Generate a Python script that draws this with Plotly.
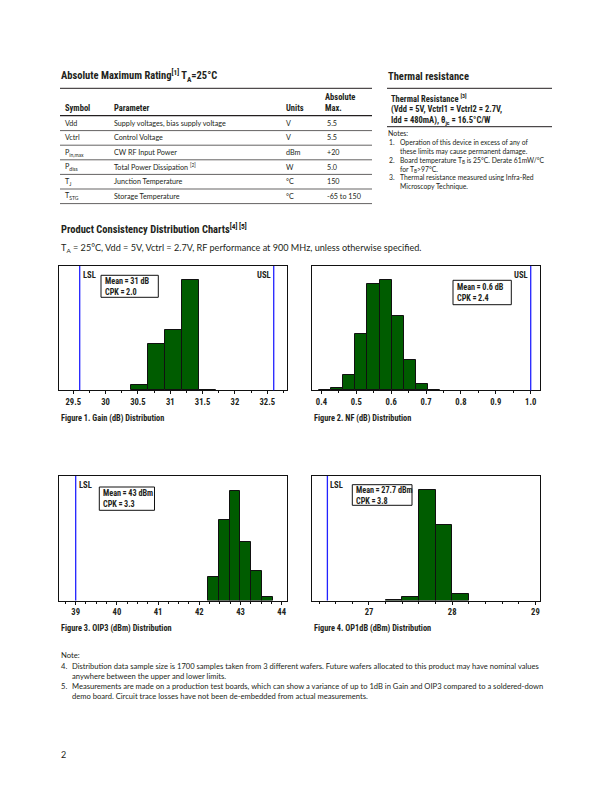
import plotly.graph_objects as go

# The page body has an 8px margin, so the figure is drawn 8px in and sized to fit.
OX, OY = 8, 8
FW, FH = 596, 776
INK = "#231f20"
BODY = "Lato, 'Open Sans', sans-serif"
COND = "'Roboto Condensed', 'Liberation Sans Narrow', 'DejaVu Sans Condensed', Lato, sans-serif"
BAR_COLOR = "#005c00"
SPEC_COLOR = "#2222ff"
TS = "\u2009"  # thin space, used around "=" in the stat boxes

# ---------------- data ----------------
gain_edges = [30.40, 30.66, 30.92, 31.18, 31.44, 31.70]
gain_counts = [43, 352, 459, 841, 5]
gain_ticks = [29.5, 30, 30.5, 31, 31.5, 32, 32.5]
gain_lsl, gain_usl = 29.6, 32.6

nf_edges = [0.394, 0.4285, 0.463, 0.4975, 0.532, 0.5665, 0.601, 0.6355, 0.670, 0.7045, 0.739]
nf_counts = [1, 9, 64, 238, 451, 468, 315, 128, 25, 1]
nf_ticks = [0.4, 0.5, 0.6, 0.7, 0.8, 0.9, 1.0]
nf_usl = 1.0

oip3_edges = [42.22, 42.48, 42.74, 43.00, 43.26, 43.52, 43.78]
oip3_counts = [132, 447, 607, 326, 166, 22]
oip3_ticks = [39, 40, 41, 42, 43, 44]
oip3_lsl = 39

op1_edges = [27.2, 27.4, 27.6, 27.8, 28.0, 28.2]
op1_counts = [4, 34, 951, 651, 60]
op1_ticks = [27, 28, 29]
op1_lsl = 26.5

amr_symbols = ["Vdd", "Vctrl", "P<sub>in,max</sub>", "P<sub>diss</sub>", "T<sub>J</sub>", "T<sub>STG</sub>"]
amr_params = ["Supply voltages, bias supply voltage", "Control Voltage", "CW RF Input Power",
              "Total Power Dissipation <sup>[2]</sup>", "Junction Temperature", "Storage Temperature"]
amr_units = ["V", "V", "dBm", "W", "°C", "°C"]
amr_max = ["5.5", "5.5", "+20", "5.0", "150", "-65 to 150"]

# ---------------- helpers ----------------
def px(x):
    return (x - OX) / FW

def py(y):
    return 1 - (y - OY) / FH

fig = go.Figure()
annotations = []
shapes = []

def text(x, y, s, size=8, family=BODY, bold=False, xanchor="left", yanchor="middle", color=INK):
    annotations.append(dict(
        x=px(x), y=py(y), xref="paper", yref="paper", text=s, showarrow=False,
        xanchor=xanchor, yanchor=yanchor, align="left", borderpad=0,
        font=dict(family=family, size=size, color=color, weight="bold" if bold else "normal"),
    ))

def hline(y, x0, x1, width=0.8, color=INK):
    shapes.append(dict(type="line", xref="paper", yref="paper",
                       x0=px(x0), x1=px(x1), y0=py(y), y1=py(y),
                       line=dict(color=color, width=width)))

# ---------------- top: absolute maximum rating ----------------
text(60, 76, "Absolute Maximum Rating<sup>[1]</sup> T<sub>A</sub>=25°C", size=10.5, family=COND, bold=True)
hline(88.3, 60, 372, 1.0)
text(324, 96.7, "Absolute", size=8.5, family=COND, bold=True)
text(64, 107.7, "Symbol", size=8.5, family=COND, bold=True)
text(113, 107.7, "Parameter", size=8.5, family=COND, bold=True)
text(285, 107.7, "Units", size=8.5, family=COND, bold=True)
text(324, 107.7, "Max.", size=8.5, family=COND, bold=True)
hline(115.7, 60, 372, 1.2)
row_y = [123.3, 137.9, 152.5, 167.1, 181.7, 196.3]
for i, yy in enumerate(row_y):
    text(64, yy, amr_symbols[i], size=7.2)
    text(113, yy, amr_params[i], size=7.2)
    text(285, yy, amr_units[i], size=7.2)
    text(325.5, yy, amr_max[i], size=7.2)
    hline(yy + 7.3, 60, 372, 0.7)

# ---------------- top right: thermal resistance ----------------
text(387, 76, "Thermal resistance", size=10.5, family=COND, bold=True)
hline(88.3, 387, 552, 1.0)
text(390, 97.7, "Thermal Resistance <sup>[3]</sup>", size=8.5, family=COND, bold=True)
text(390, 109.3, "(Vdd = 5V, Vctrl1 = Vctrl2 = 2.7V,", size=8.5, family=COND, bold=True)
text(390, 120.7, "Idd = 480mA), θ<sub>jc</sub> = 16.5°C/W", size=8.5, family=COND, bold=True)
hline(126.7, 387, 552, 1.0)
text(387, 133.4, "Notes:", size=7)
note_nums = "1.<br> <br>2.<br> <br>3.<br> "
note_lines = "<br>".join([
    "Operation of this device in excess of any of",
    "these limits may cause permanent damage.",
    "Board temperature T<sub>B</sub> is 25°C. Derate 61mW/°C",
    "for T<sub>B</sub>>97°C.",
    "Thermal resistance measured using Infra-Red",
    "Microscopy Technique.",
])
text(387.5, 137.4, note_nums, size=6.8, yanchor="top")
text(398.5, 137.4, note_lines, size=6.8, yanchor="top")

# ---------------- middle headings ----------------
text(60, 229, "Product Consistency Distribution Charts<sup>[4] [5]</sup>", size=10.5, family=COND, bold=True)
text(60, 247.5, "T<sub>A</sub> = 25°C, Vdd = 5V, Vctrl = 2.7V, RF performance at 900 MHz, unless otherwise specified.", size=9.1)

# ---------------- charts ----------------
charts = [
    dict(edges=gain_edges, counts=gain_counts, ticks=gain_ticks, xr=[29.28, 32.81], ymax=951,
         dom_x=(59, 287.3), dom_y=(266, 390.3), minor=0.25, fmt=None,
         specs=[("LSL", gain_lsl, "left"), ("USL", gain_usl, "right")],
         box=(101, 275.3, 158.3, 297.3), box_text=["Mean = 31 dB", "CPK = 2.0"],
         caption="Figure 1. Gain (dB) Distribution", cap_xy=(60, 418.5)),
    dict(edges=nf_edges, counts=nf_counts, ticks=nf_ticks, xr=[0.373, 1.0275], ymax=529,
         dom_x=(312, 540.3), dom_y=(266, 390.3), minor=0.05, fmt=".1f",
         specs=[("USL", nf_usl, "right")],
         box=(453, 280.3, 511.3, 304.7), box_text=["Mean = 0.6 dB", "CPK = 2.4"],
         caption="Figure 2. NF (dB) Distribution", cap_xy=(313, 418.5)),
    dict(edges=oip3_edges, counts=oip3_counts, ticks=oip3_ticks, xr=[38.595, 44.136], ymax=692,
         dom_x=(59, 287.3), dom_y=(476, 600.5), minor=0.25, fmt=None,
         specs=[("LSL", oip3_lsl, "left")],
         box=(99.3, 487, 154.5, 510.3), box_text=["Mean = 43 dBm", "CPK = 3.3"],
         caption="Figure 3. OIP3 (dBm) Distribution", cap_xy=(60, 628.5)),
    dict(edges=op1_edges, counts=op1_counts, ticks=op1_ticks, xr=[26.315, 29.059], ymax=1074,
         dom_x=(312, 540.3), dom_y=(476, 600.5), minor=0.2, fmt=None,
         specs=[("LSL", op1_lsl, "left")],
         box=(352.3, 484.7, 412, 505.3), box_text=["Mean = 27.7 dBm", "CPK = 3.8"],
         caption="Figure 4. OP1dB (dBm) Distribution", cap_xy=(313, 628.5)),
]

layout_axes = {}
for i, c in enumerate(charts, start=1):
    xa = "x" if i == 1 else f"x{i}"
    ya = "y" if i == 1 else f"y{i}"
    e = c["edges"]
    centers = [(e[k] + e[k + 1]) / 2 for k in range(len(e) - 1)]
    widths = [e[k + 1] - e[k] for k in range(len(e) - 1)]
    fig.add_trace(go.Bar(x=centers, y=c["counts"], width=widths, xaxis=xa, yaxis=ya,
                         marker=dict(color=BAR_COLOR, line=dict(color="#111111", width=1)),
                         showlegend=False, hoverinfo="skip"))
    key = "xaxis" if i == 1 else f"xaxis{i}"
    ykey = "yaxis" if i == 1 else f"yaxis{i}"
    layout_axes[key] = dict(
        domain=[px(c["dom_x"][0]), px(c["dom_x"][1])], range=c["xr"], anchor=ya,
        showline=True, linecolor="#111111", linewidth=1, mirror=True,
        showgrid=False, zeroline=False, ticks="outside", ticklen=3, tickwidth=1, tickcolor="#111111",
        tickvals=c["ticks"], ticktext=[(format(t, c["fmt"]) if c["fmt"] else f"{t:g}") for t in c["ticks"]],
        tickfont=dict(family=COND, size=8.6, color=INK, weight="bold"),
        minor=dict(dtick=c["minor"], tick0=c["ticks"][0], ticks="outside", ticklen=2, tickcolor="#111111"),
        fixedrange=True,
    )
    layout_axes[ykey] = dict(
        domain=[py(c["dom_y"][1]), py(c["dom_y"][0])], range=[0, c["ymax"]], anchor=xa,
        showline=True, linecolor="#111111", linewidth=1, mirror=True,
        showgrid=False, zeroline=False, showticklabels=False, ticks="", fixedrange=True,
    )
    xref = xa
    yref = f"{ya} domain"
    for label, val, side in c["specs"]:
        shapes.append(dict(type="line", xref=xref, yref=yref, x0=val, x1=val, y0=0, y1=1,
                           line=dict(color=SPEC_COLOR, width=1.3)))
        annotations.append(dict(
            x=val, y=0.985, xref=xref, yref=yref, text=label, showarrow=False,
            xanchor="left" if side == "left" else "right", yanchor="top",
            xshift=1 if side == "left" else -1,
            font=dict(family=COND, size=8.6, color=INK, weight="bold")))
    bx0, by0, bx1, by1 = c["box"]
    shapes.append(dict(type="rect", xref="paper", yref="paper",
                       x0=px(bx0), x1=px(bx1), y0=py(by1), y1=py(by0),
                       line=dict(color="#111111", width=1), fillcolor="white", layer="above"))
    box_str = "<br>".join(t.replace(" = ", TS + "=" + TS) for t in c["box_text"])
    text(bx0 + 2.5, (by0 + by1) / 2, box_str, size=8.2, family=COND, bold=True)
    text(c["cap_xy"][0], c["cap_xy"][1], c["caption"], size=8.3, family=COND, bold=True)

# ---------------- bottom notes ----------------
text(60, 655, "Note:", size=7.7)
bottom_nums = "4.<br> <br>5.<br> "
bottom_lines = "<br>".join([
    "Distribution data sample size is 1700 samples taken from 3 different wafers. Future wafers allocated to this product may have nominal values",
    "anywhere between the upper and lower limits.",
    "Measurements are made on a production test boards, which can show a variance of up to 1dB in Gain and OIP3 compared to a soldered-down",
    "demo board. Circuit trace losses have not been de-embedded from actual measurements.",
])
text(60, 659.5, bottom_nums, size=7.6, yanchor="top")
text(70.5, 659.5, bottom_lines, size=7.6, yanchor="top")

text(60, 754, "2", size=9)

fig.update_layout(
    width=FW, height=FH, margin=dict(l=0, r=0, t=0, b=0),
    paper_bgcolor="white", plot_bgcolor="white",
    annotations=annotations, shapes=shapes, bargap=0,
    **layout_axes,
)

fig.write_html("out.html")
